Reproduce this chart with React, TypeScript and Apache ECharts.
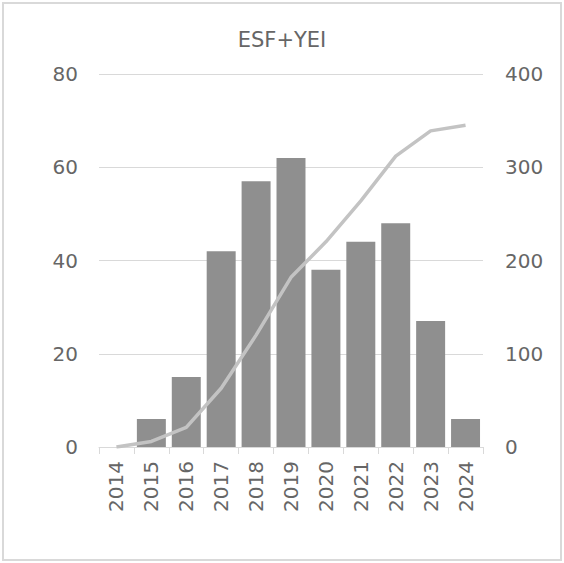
import React, { useEffect, useRef } from "react";
import * as echarts from "echarts";

const categories = ["2014", "2015", "2016", "2017", "2018", "2019", "2020", "2021", "2022", "2023", "2024"];
const annualValues = [0, 6, 15, 42, 57, 62, 38, 44, 48, 27, 6];
const cumulativeValues = [0, 6, 21, 63, 120, 182, 220, 264, 312, 339, 345];
const leftTicks = [0, 20, 40, 60, 80];
const rightTicks = [0, 100, 200, 300, 400];
const titleText = "ESF+YEI";

const FONT = "Verdana, 'DejaVu Sans', sans-serif";
const TXT = "#666666";

export default function App() {
  const ref = useRef<HTMLDivElement>(null);
  useEffect(() => {
    if (!ref.current) return;
    const chart = echarts.init(ref.current, undefined, { renderer: "svg" });
    chart.setOption({
      animation: false,
      backgroundColor: "transparent",
      title: {
        text: titleText,
        left: "center",
        top: 24,
        textStyle: { color: TXT, fontSize: 21, fontWeight: "normal", fontFamily: FONT },
      },
      grid: { left: 99, right: 81, top: 74, bottom: 116, containLabel: false },
      xAxis: {
        type: "category",
        data: categories,
        boundaryGap: true,
        axisLine: { show: true, lineStyle: { color: "#D9D9D9", width: 1 } },
        axisTick: { show: true, length: 7, lineStyle: { color: "#D9D9D9" } },
        axisLabel: { rotate: 90, color: TXT, fontSize: 20, fontFamily: FONT, margin: 14, interval: 0 },
      },
      yAxis: [
        {
          type: "value",
          min: leftTicks[0],
          max: leftTicks[leftTicks.length - 1],
          interval: 20,
          axisLine: { show: false },
          axisTick: { show: false },
          splitLine: { lineStyle: { color: "#D9D9D9", width: 1 } },
          axisLabel: { color: TXT, fontSize: 20, fontFamily: FONT, margin: 21 },
        },
        {
          type: "value",
          min: rightTicks[0],
          max: rightTicks[rightTicks.length - 1],
          interval: 100,
          position: "right",
          axisLine: { show: false },
          axisTick: { show: false },
          splitLine: { show: false },
          axisLabel: { color: TXT, fontSize: 20, fontFamily: FONT, margin: 22 },
        },
      ],
      series: [
        {
          type: "bar",
          data: annualValues,
          yAxisIndex: 0,
          barCategoryGap: "17%",
          itemStyle: { color: "#8F8F8F" },
        },
        {
          type: "line",
          data: cumulativeValues,
          yAxisIndex: 1,
          showSymbol: false,
          symbol: "none",
          lineStyle: { color: "#C3C3C3", width: 3.5 },
          z: 5,
        },
      ],
    });
    return () => chart.dispose();
  }, []);
  return (
    <div
      style={{
        position: "fixed",
        left: 0,
        top: 0,
        width: 564,
        height: 563,
        background: "#fff",
      }}
    >
      <div
        style={{
          position: "absolute",
          left: 2,
          top: 2,
          width: 560,
          height: 559,
          border: "2px solid #D9D9D9",
          boxSizing: "border-box",
        }}
      />
      <div ref={ref} style={{ position: "absolute", left: 0, top: 0, width: 564, height: 563 }} />
    </div>
  );
}
